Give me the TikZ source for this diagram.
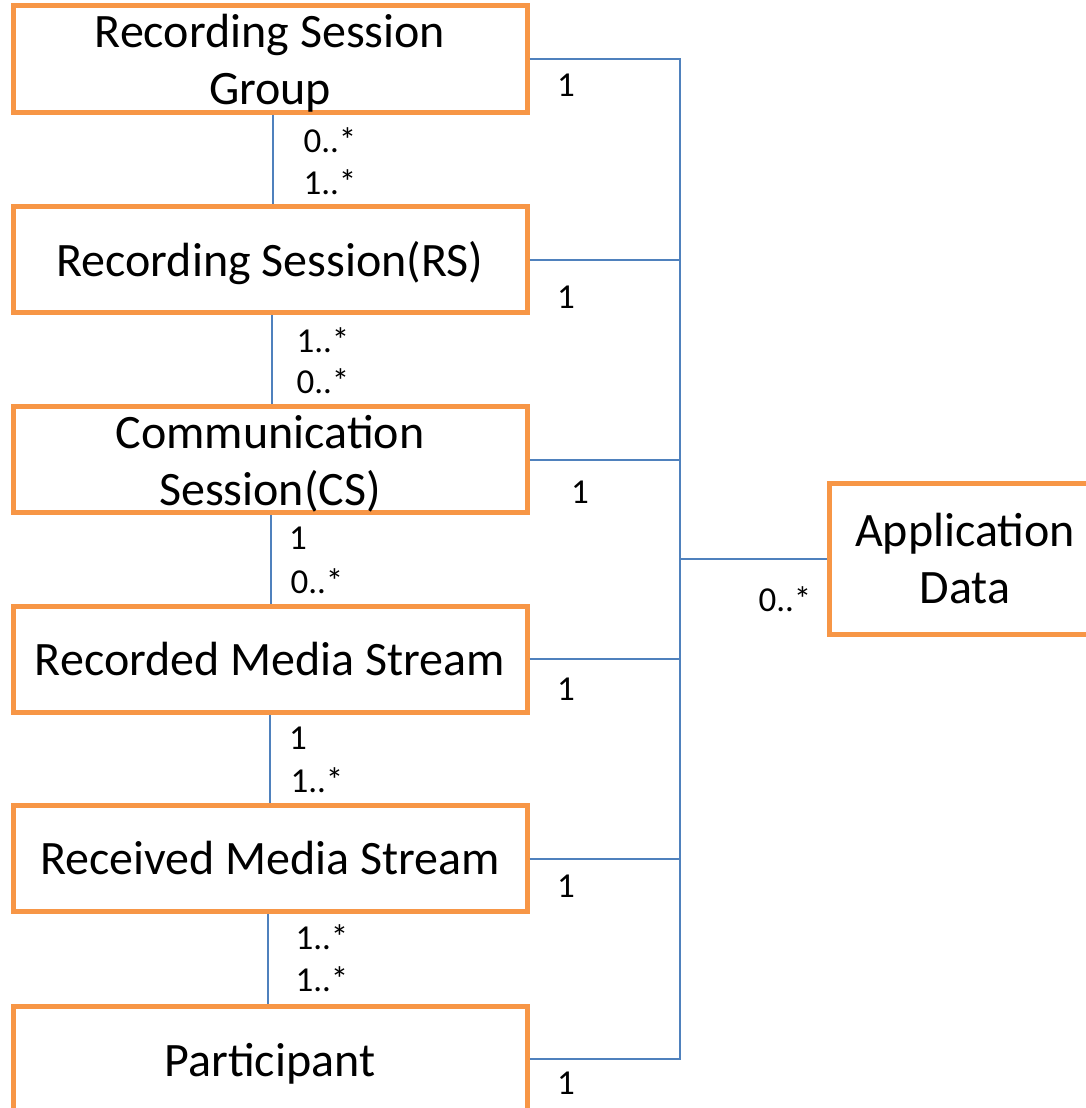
\documentclass[tikz,border=0pt]{standalone}
\usepackage{fontspec}
\setmainfont{Carlito}
\definecolor{boxorange}{HTML}{F79646}
\definecolor{linkblue}{HTML}{4F81BD}
% taller first-line strut to drop box text slightly below centre
\newcommand{\tallstrut}{\rule{0pt}{42pt}}
\begin{document}
\begin{tikzpicture}[x=1pt,y=-1pt,
  entity/.style={draw=boxorange, line width=5pt, fill=white, rectangle,
    minimum width=514pt, minimum height=106pt, inner sep=0pt,
    align=center, font=\fontsize{48}{57}\selectfont},
  link/.style={draw=linkblue, line width=2pt},
  mult/.style={inner sep=0pt, font=\fontsize{35}{40}\selectfont}]
\useasboundingbox (0,0) rectangle (1086,1108);
\clip (0,0) rectangle (1086,1108);
\fill[white] (0,0) rectangle (1086,1108);

% shared bus column
\coordinate (bus) at (680,0);

% entity boxes
\node[entity] (rsg) at (270,59)   {\tallstrut Recording Session\\Group};
\node[entity] (rs)  at (270,259.5) {\tallstrut Recording Session(RS)};
\node[entity] (cs)  at (270,459.5) {\tallstrut Communication\\Session(CS)};
\node[entity] (rec) at (270,659)   {Recorded Media Stream};
\node[entity] (rcv) at (270,858.5) {Received Media Stream};
\node[entity] (par) at (270,1059)  {\tallstrut Participant};
\node[entity, minimum width=272pt, minimum height=151pt] (app) at (965,558.5) {Application\\Data};

% vertical associations between neighbouring entities
\draw[link] ([xshift=3pt]rsg.south) -- ([xshift=3pt]rs.north);
\draw[link] ([xshift=2pt]rs.south)  -- ([xshift=2pt]cs.north);
\draw[link] ([xshift=1pt]cs.south)  -- ([xshift=1pt]rec.north);
\draw[link] (rec.south) -- (rec.north |- rcv.north);
\draw[link] ([xshift=-2pt]rcv.south) -- ([xshift=-2pt]par.north);

% associations to application data via the bus
\draw[link] (rsg.east) -- (rsg.east -| bus) -- (par.east -| bus) -- (par.east);
\draw[link] (rs.east)  -- (rs.east -| bus);
\draw[link] (cs.east)  -- (cs.east -| bus);
\draw[link] (rec.east) -- (rec.east -| bus);
\draw[link] (rcv.east) -- (rcv.east -| bus);
\draw[link] (app.west) -- (app.west -| bus);

% multiplicities on the vertical links
\node[mult] (m1a) at (330,140) {0..*};
\node[mult] (m1b) at (330,182) {1..*};
\node[mult] (m2a) at (323,340) {1..*};
\node[mult] (m2b) at (323,381) {0..*};
\node[mult] (m3a) at (298,538) {1};
\node[mult] (m3b) at (317,581) {0..*};
\node[mult] (m4a) at (298,738) {1};
\node[mult] (m4b) at (317,780) {1..*};
\node[mult] (m5a) at (322,937) {1..*};
\node[mult] (m5b) at (322,979) {1..*};

% multiplicities on the bus side
\node[mult] (r1) at (566,85)   {1};
\node[mult] (r2) at (566,297)  {1};
\node[mult] (r3) at (580,492)  {1};
\node[mult] (r4) at (566,689)  {1};
\node[mult] (r5) at (566,886)  {1};
\node[mult] (r6) at (566,1083) {1};
\node[mult] (ra) at (785,599)  {0..*};
\end{tikzpicture}
\end{document}
